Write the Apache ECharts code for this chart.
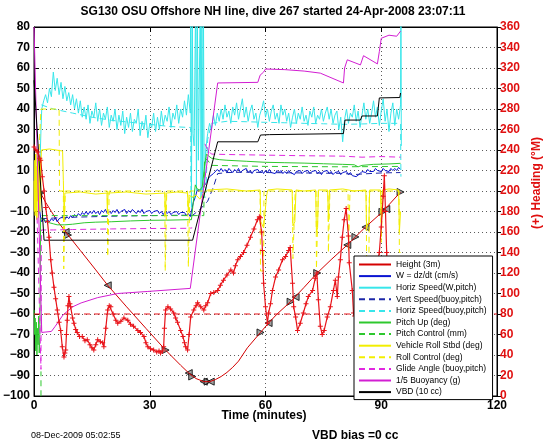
<!DOCTYPE html>
<html><head><meta charset="utf-8">
<script src="https://cdn.jsdelivr.net/npm/echarts@6/dist/echarts.min.js"></script>
<style>html,body{margin:0;padding:0;background:#fff}#c{width:546px;height:442px}</style>
</head><body><div id="c"></div>
<script>
// ---------- data ----------
const titleText = 'SG130 OSU Offshore NH line, dive 267 started 24-Apr-2008 23:07:11';
const xTitle = 'Time (minutes)';
const rightTitle = '(+) Heading (\u00B0M)';
const footLeft = '08-Dec-2009 05:02:55';
const footRight = 'VBD bias =0 cc';

const seriesNames = ['Height (3m)','W = dz/dt (cm/s)','Horiz Speed(W,pitch)','Vert Speed(buoy,pitch)',
  'Horiz Speed(buoy,pitch)','Pitch Up (deg)','Pitch Control (mm)','Vehicle Roll Stbd (deg)',
  'Roll Control (deg)','Glide Angle (buoy,pitch)','1/5 Buoyancy (g)','VBD (10 cc)'];

const heightT = [0,1.7,3,4.5,6,8.2,12,16,19.1,24,29,34.1,38,40.1,42,44,45.5,47,48.5,50,51.5,53,55.3,58.7,60.8,63,66.5,70,73.4,77,81.2,85.9,90.3,95];
const heightV = [0,-1,-5.5,-10,-14.5,-20,-29,-38.5,-46,-56.5,-67,-77.6,-85,-88.8,-91.5,-93,-93,-92,-90.5,-88.5,-86,-83,-76.5,-69,-64.4,-60,-54,-47,-40,-33.5,-26.3,-17.6,-10.2,-0.5];

const markT = [1.7,8.2,8.8,19.1,34.1,40.1,41,44,45,45.8,58.7,60.8,66.5,67.8,73.4,81.2,83.3,85.9,90.3,91.3,95];
const markV = [-1,-20,-21.5,-46,-77.6,-88.8,-90.5,-93,-93,-93,-69,-64.4,-54,-51.7,-40,-26.3,-22.4,-17.6,-10.2,-8.8,-0.5];

const tDesc = [2,2.5,3,3.5,4,4.5,5,5.5,6,6.5,7,7.5,8,8.5,9,9.5,10,10.5,11,11.5,12,12.5,13,13.5,14,14.5,15,15.5,16,16.5,17,17.5,18,18.5,19,19.5,20,20.5,21,21.5,22,22.5,23,23.5,24,24.5,25,25.5,26,26.5,27,27.5,28,28.5,29,29.5,30,30.5,31,31.5,32,32.5,33,33.5,34,34.5,35,35.5,36,36.5,37,37.5,38,38.5,39,39.5,40,40.5];
const tClimb = [45,45.5,46,46.5,47,47.5,48,48.5,49,49.5,50,50.5,51,51.5,52,52.5,53,53.5,54,54.5,55,55.5,56,56.5,57,57.5,58,58.5,59,59.5,60,60.5,61,61.5,62,62.5,63,63.5,64,64.5,65,65.5,66,66.5,67,67.5,68,68.5,69,69.5,70,70.5,71,71.5,72,72.5,73,73.5,74,74.5,75,75.5,76,76.5,77,77.5,78,78.5,79,79.5,80,80.5,81,81.5,82,82.5,83,83.5,84,84.5,85,85.5,86,86.5,87,87.5,88,88.5,89,89.5,90,90.5,91,91.5,92,92.5,93,93.5,94,94.5,95];

const wDesc = [-15,-13.5,-15.5,-14,-15,-13.5,-14.5,-13,-15,-13.5,
 -14,-12.5,-14,-12.5,-13.5,-12,-13,-11.5,-12.5,-11,
 -12,-10.5,-11.5,-10,-11.5,-10,-11,-9.5,-11,-10,
 -11.5,-9.5,-10.5,-9,-11,-10,-11,-9.5,-10.5,-9,
 -11,-10,-10.5,-9,-11,-9.5,-10.5,-9,-10,-11,
 -9.5,-10.5,-9,-11,-10,-10.5,-9.5,-11,-10,-10.5,
 -9.5,-11,-10,-11.5,-10,-11,-10,-11.5,-10.5,-11,
 -10,-11.5,-10.5,-11,-10.5,-12,-11,-12.5];
const wTransT = [1.0,1.5,1.8,41,41.3,41.8,42.3,43,43.5,44,44.5];
const wTransV = [-2,-10,-14,-12,-5.5,-3,0.5,0,1,0.5,3.5];
const wClimb = [5.5,7,7.5,8.5,9,10.5,9.5,11,9.5,10.5,
 9,11,10,9,10.5,9.5,11,9,10,9.5,
 11,9,10,8.5,10,9.5,10.5,9,10,8.5,
 10,9,10.5,9,9.5,8.5,10,9,10,8.5,
 9.5,8.5,10,9,9.5,8,9.5,9,10,8.5,
 9.5,9,10,8.5,9.5,9,10,8.5,9.5,8,
 9.5,9,10,8.5,9.5,8,9,8.5,9.5,8,
 9,8.5,9.5,8,9,7.5,8,7,7.5,8.5,
 9.5,10,9,10.5,9.5,10,9.5,11,10,10.5,
 9.5,11,10,10.5,9.5,11,10,11,10,11.5,
 10.5];

const hsDesc = [40,44,47,43,50,46,58,49,55,47,
 53,45,51,44,48,42,47,40,45,38,
 44,36,41,35,42,33,39,36,43,34,
 40,32,38,35,41,31,37,34,40,30,
 37,32,39,28,36,31,38,29,35,33,
 40,27,34,30,37,26,33,31,38,29,
 36,30,39,32,37,34,41,31,38,35,
 42,33,40,36,44,37,47,38];
const hsStartT = [1.2,1.5,1.8];
const hsStartV = [-1,10,30];
const hsTransT = [40.6,40.8,41.0,41.2,41.5,41.9,42.1,42.3,42.6,43.1,43.3,43.5,43.7,43.9,44.1,44.5];
const hsTransV = [95,-8,95,28,22,95,0,95,15,95,-3,95,-1,95,3,20];
const hsClimb = [28,33,30,37,32,38,34,40,35,42,
 36,39,33,41,37,43,35,40,45,36,
 41,34,39,42,35,38,31,37,40,44,
 36,40,34,39,42,35,38,33,42,37,
 40,34,38,31,36,40,33,38,35,41,
 34,37,32,39,36,41,33,37,35,40,
 34,38,41,35,40,33,37,39,30,36,
 24,35,40,33,38,36,42,34,39,31,
 37,43,35,40,33,38,44,36,41,32,
 39,45,34,40,29,38,43,32,40,35,
 42];
const hsEndT = [95.1,95.2];
const hsEndV = [95,22];

const vsT = [1.9,5,10,20,30,40,41,43,45,46.5,47.6,50,55,60,65,70,75,80,83,85,90,95];
const vsV = [-13.5,-13.2,-12.8,-12.3,-12,-11.8,-12,-9,-5,2,8.5,9,9.2,9,8.9,8.8,8.7,8.6,8,8.3,8.8,9];

const hbT = [1.9,5,10,15,20,25,30,35,40,40.6,40.7,44.5,45,46,50,55,60,65,70,75,80,85,90,95,95.1];
const hbV = [42,40,38,36,34.5,33.5,32.5,31.5,31,31,-3,-3,25,33,34,33.8,33.5,33.3,33,32.8,32.5,32.7,33,33,7];

const pitchT = [0,0.15,0.3,0.45,0.6,0.75,0.9,1.05,1.2,1.35,1.5,1.7,2,3,4,5,6,8,10,13,16,20,25,30,35,40,40.8,41.3,41.8,42.3,43,43.6,44.2,44.7,45.3,46,48,50,55,60,65,70,75,80,83,84,85,88,92,95];
const pitchV = [-58,-70,-62,-78,-64,-80,-67,-75,-61,-79,-70,-14,-13,-14.5,-15.5,-16,-16.5,-16.5,-16.2,-15.5,-15.2,-15,-14.6,-14.3,-14.2,-14,-14,-5,3,1,0.5,2,12,18,17,16,15.3,15,14.5,14,13.8,13.6,13.3,13,12.8,11.8,12.5,13,13.2,13.5];

const pcT = [1.8,1.8,1.85,2,41,44,44.2,45,46,60,80,95];
const pcV = [-105,-88,null,-12,-12,-12,16,15,12.5,12,11.8,12];

const rollT = [0,0.1,0.2,0.3,0.4,0.5,0.6,0.7,0.8,0.9,1.0,1.1,1.2,1.3,1.4,1.5,1.6,1.7,1.9,4,7.4,7.6,7.8,8.0,12,16,18.9,19.0,19.2,24,29,33.9,34.0,34.3,37,39.8,40.0,40.2,41,42,43,44,45,50,55,58.6,58.8,59.5,60.3,60.6,63,66.9,67.1,67.6,67.9,70,73,73.2,73.5,73.7,76.1,76.3,76.6,80,83,86,86.2,86.8,87,89.8,90,90.3,92,94.5,94.7,95];
const rollV = [5,-10,15,-12,18,-8,12,-14,20,-5,10,-13,16,-6,8,-10,14,-4,20,20.5,19.5,5,-12,-1,-0.5,-1.5,-1,-10,-1,-0.5,-1.5,-1,-12,-1,-0.5,-1,-10,-2,-3,-2,-4,-1,0.5,1,0,0.5,-15,-18,-2,0.5,1,0.5,-17,-15,0.5,0,0.5,-20,-18,0.5,0.5,-15,0.5,1,0,0.5,-18,-15,0.5,0.5,-15,0.5,1,0.5,-20,-10];

const rcT = [1.3,1.8,6.5,6.6,7.6,7.7,8.0,8.1,19.0,19.1,19.4,19.5,33.9,34.0,34.3,34.4,39.8,40.0,40.3,40.4,41,44,58.6,58.7,59.5,59.6,67.0,67.1,67.6,67.7,73.1,73.2,73.6,73.7,76.2,76.3,76.6,76.7,81.4,81.5,81.8,81.9,86.1,86.2,86.8,86.9,89.9,90.0,90.3,90.4,94.6,94.7,95];
const rcV = [20,40,40,0,0,-38,-38,0,0,-32,-32,0,0,-39,-39,0,0,-37,-37,0,0,0,0,-39,-39,0,0,-33,-33,0,0,-38,-38,0,0,-30,-30,0,0,-30,-30,0,0,-35,-35,0,0,-25,-25,0,0,-30,-30];

const glideT = [0.8,1.8,1.9,5,10,20,30,40,41,41.1,44.3,45,46,50,60,70,80,85,90,95];
const glideV = [-13,-87,-19,-19,-18.8,-18.5,-18.3,-18.2,-18,null,23,20,18,17.8,17.5,17.2,17,16.5,16.8,16.5];

const buoyT = [0,2,4.5,5.5,7.5,10,12.2,16.5,21.7,29.5,40.5,41,47.6,58,58.6,59.5,60,65,70,74.2,80.2,80.5,81.2,84.6,85.4,89,89.5,90,92,94,95];
const buoyV = [80,-69,-68.5,-66,-60.5,-56.5,-54.6,-52,-50,-49,-47.5,-47,52.7,53,56.5,58,59.5,59.2,58.5,57.5,52.7,60,64,61.5,66,62,68,74.5,76,75.5,78];

const vbdT = [0,2.6,41.1,47.6,58,58.7,61,61.3,80.2,80.6,84.6,85,89,89.5,94.8,95];
const vbdV = [54,-24,-24,24,24,27.3,27.5,28,28,34.6,34.6,36.6,36.6,45.4,45.6,47.8];

const headT = [0,0.5,1.0,1.5,1.73,2.15,2.6,3.03,3.5,3.88,4.32,4.7,5.17,5.6,6.03,6.5,6.9,7.32,7.76,8.0,8.2,8.4,8.61,8.8,9.05,9.3,9.49,10.0,10.35,10.8,11.2,11.8,12.5,13.2,13.8,14.5,15,15.5,16,16.5,17.2,17.8,18.1,18.6,19.1,19.5,19.9,20.5,21.2,21.7,22.5,23.3,24.3,25,25.8,26.9,27.6,28.5,29,29.5,30.2,31,31.8,32.4,32.8,33.3,33.6,33.8,34.1,34.7,35.4,36.2,36.7,37.2,38,38.6,39,39.3,39.8,40.2,40.6,41.4,42,42.4,43.2,44,44.5,45,45.8,46.6,47.6,48.3,49.1,50,51,51.7,52.2,52.8,53.5,54.3,55.2,56.1,57,57.9,58.4,58.7,59,59.2,59.5,60,60.5,60.8,61.3,61.8,62.6,63.4,64.4,65.2,66,66.4,67,67.3,67.8,68.3,69,69.8,70.5,71.1,72.2,72.9,73.3,73.7,74.2,74.7,75.2,76,76.8,77.6,78.1,78.6,78.9,79.4,79.9,80.4,80.9,81.5,81.7,82.5,82.8,83.1,84,85,86,87,88,89,89.5,90,90.5,90.8,91.1,91.4,91.7,92.5,93.5,94.5,95];
const headV = [243,240,238,232,230,214,200,184,170,155,133,120,106,95,84,72,64,48,38,42,45,60,74,88,97,90,87,76,71,65,62,58,58,54,55,50,47,45,50,55,53,52,48,66,84,88,87,80,74,71,73,76,74,70,68,64,62,58,52,48,46,45,43,44,42,44,48,66,84,87,85,81,76,72,64,58,52,48,45,60,77,84,88,91,87,84,88,91,100,101,103,108,113,118,123,120,127,133,136,140,147,155,163,172,175,174,160,142,110,87,71,81,90,103,116,123,133,136,142,145,110,87,77,64,71,81,90,97,103,115,120,94,68,60,64,77,87,103,113,97,116,133,155,172,183,156,130,103,81,78,90,100,108,116,122,130,140,165,195,215,180,140,110,100,105,112,118];
const targetHeading = 80;

// ---------- helpers ----------
const zip = (t, v) => t.map((x, i) => [x, v[i] === null ? '-' : v[i]]);
const FONT = 'Liberation Sans, Arial, Helvetica, sans-serif';
const minus = v => String(v).replace('-', '\u2212');

const C = {
  height:'#d40000', w:'#0a14d2', hs:'#38e6ea', vs:'#1e28a8', hb:'#38e6ea', pitch:'#2ec82e',
  pc:'#2ec82e', roll:'#f2ee00', rc:'#f2ee00', glide:'#e028e0', buoy:'#d21ed2', vbd:'#000000', head:'#e8141a'
};
const DASH = [6,4];
function ln(name, data, color, dashed, extra) {
  return Object.assign({
    name, type:'line', data, symbol:'none', showSymbol:false, clip:true,
    lineStyle:{color, width:1, type: dashed ? DASH : 'solid'}, itemStyle:{color},
    emphasis:{disabled:true}, animation:false, connectNulls:false
  }, extra || {});
}

const hsData = zip(hsStartT, hsStartV).concat(zip(tDesc, hsDesc), zip(hsTransT, hsTransV), zip(tClimb, hsClimb), zip(hsEndT, hsEndV));
const wData = zip(wTransT.slice(0,3), wTransV.slice(0,3)).concat(zip(tDesc, wDesc), zip(wTransT.slice(3), wTransV.slice(3)), zip(tClimb, wClimb));

const chart = echarts.init(document.getElementById('c'), null, {renderer:'canvas'});
const gridDots = {show:true, lineStyle:{color:'#5a5a5a', type:[1,3], width:1}};
const axLine = {show:true, onZero:false, lineStyle:{color:'#000'}};
chart.setOption({
  animation:false,
  backgroundColor:'#fff',
  grid:{left:33, top:27, width:464, height:369, show:true, borderColor:'#000', borderWidth:1, backgroundColor:'transparent'},
  xAxis:[
    {type:'value', min:0, max:120, interval:30, position:'bottom',
     axisLine:axLine, axisTick:{inside:true, length:5, lineStyle:{color:'#000'}},
     axisLabel:{color:'#000', fontWeight:'bold', fontSize:12, fontFamily:FONT, margin:4},
     splitLine:gridDots},
    {type:'value', min:0, max:120, interval:30, position:'top',
     axisLine:axLine, axisTick:{inside:true, length:5, lineStyle:{color:'#000'}},
     axisLabel:{show:false}, splitLine:{show:false}}
  ],
  yAxis:[
    {type:'value', min:-100, max:80, interval:10, position:'left',
     axisLine:axLine, axisTick:{inside:true, length:5, lineStyle:{color:'#000'}},
     axisLabel:{color:'#000', fontWeight:'bold', fontSize:12, fontFamily:FONT, margin:4, formatter:minus},
     splitLine:gridDots},
    {type:'value', min:0, max:360, interval:20, position:'right',
     axisLine:axLine, axisTick:{inside:false, length:4, lineStyle:{color:'#000'}},
     axisLabel:{color:'#e01010', fontWeight:'bold', fontSize:12, fontFamily:FONT, margin:3},
     splitLine:{show:false}}
  ],
  legend:{
    data:seriesNames, orient:'vertical', left:354, top:256,
    itemWidth:32, itemHeight:8, itemGap:2.6, padding:[4,6,3,4],
    backgroundColor:'#fff', borderColor:'#000', borderWidth:1, borderRadius:0,
    itemStyle:{color:'rgba(0,0,0,0)', borderWidth:0, opacity:0},
    textStyle:{fontSize:8.5, fontFamily:FONT, color:'#000'}, selectedMode:false
  },
  series:[
    ln(seriesNames[0], zip(heightT, heightV), C.height, false),
    ln(seriesNames[1], wData, C.w, false),
    ln(seriesNames[2], hsData, C.hs, false),
    ln(seriesNames[3], zip(vsT, vsV), C.vs, true),
    ln(seriesNames[4], zip(hbT, hbV), C.hb, true),
    ln(seriesNames[5], zip(pitchT, pitchV), C.pitch, false),
    ln(seriesNames[6], zip(pcT, pcV), C.pc, true),
    ln(seriesNames[7], zip(rollT, rollV), C.roll, false),
    ln(seriesNames[8], zip(rcT, rcV), C.rc, true),
    ln(seriesNames[9], zip(glideT, glideV), C.glide, true),
    ln(seriesNames[10], zip(buoyT, buoyV), C.buoy, false),
    ln(seriesNames[11], zip(vbdT, vbdV), C.vbd, false),
    ln('target', [[0,targetHeading],[120,targetHeading]], C.head, true, {yAxisIndex:1}),
    {name:'heading', type:'line', yAxisIndex:1, data:zip(headT, headV), clip:true,
     symbol:'path://M4,0H6V4H10V6H6V10H4V6H0V4H4Z', symbolSize:5, showSymbol:true,
     lineStyle:{color:C.head, width:1.2}, itemStyle:{color:C.head}, animation:false, emphasis:{disabled:true}},
    {name:'marks', type:'scatter', data:zip(markT, markV), symbol:'triangle', symbolSize:7,
     symbolRotate:(v, p) => (p.dataIndex % 2 ? 90 : -90),
     itemStyle:{color:'#8a8a8a', borderColor:'#000', borderWidth:1}, animation:false, emphasis:{disabled:true}}
  ],
  graphic:[
    {type:'text', left:'center', top:6, style:{text:titleText, font:'bold 12px '+FONT, fill:'#000'}},
    {type:'text', x:264, y:416, style:{text:xTitle, font:'bold 12px '+FONT, fill:'#000', textAlign:'center', textVerticalAlign:'middle'}},
    {type:'text', x:31, y:436, style:{text:footLeft, font:'9px '+FONT, fill:'#000', textAlign:'left', textVerticalAlign:'middle'}},
    {type:'text', x:312, y:436, style:{text:footRight, font:'bold 12px '+FONT, fill:'#000', textAlign:'left', textVerticalAlign:'middle'}},
    {type:'text', x:537, y:183, rotation:Math.PI/2, style:{text:rightTitle, font:'bold 12px '+FONT, fill:'#e01010', textAlign:'center', textVerticalAlign:'middle'}}
  ]
});
</script></body></html>
